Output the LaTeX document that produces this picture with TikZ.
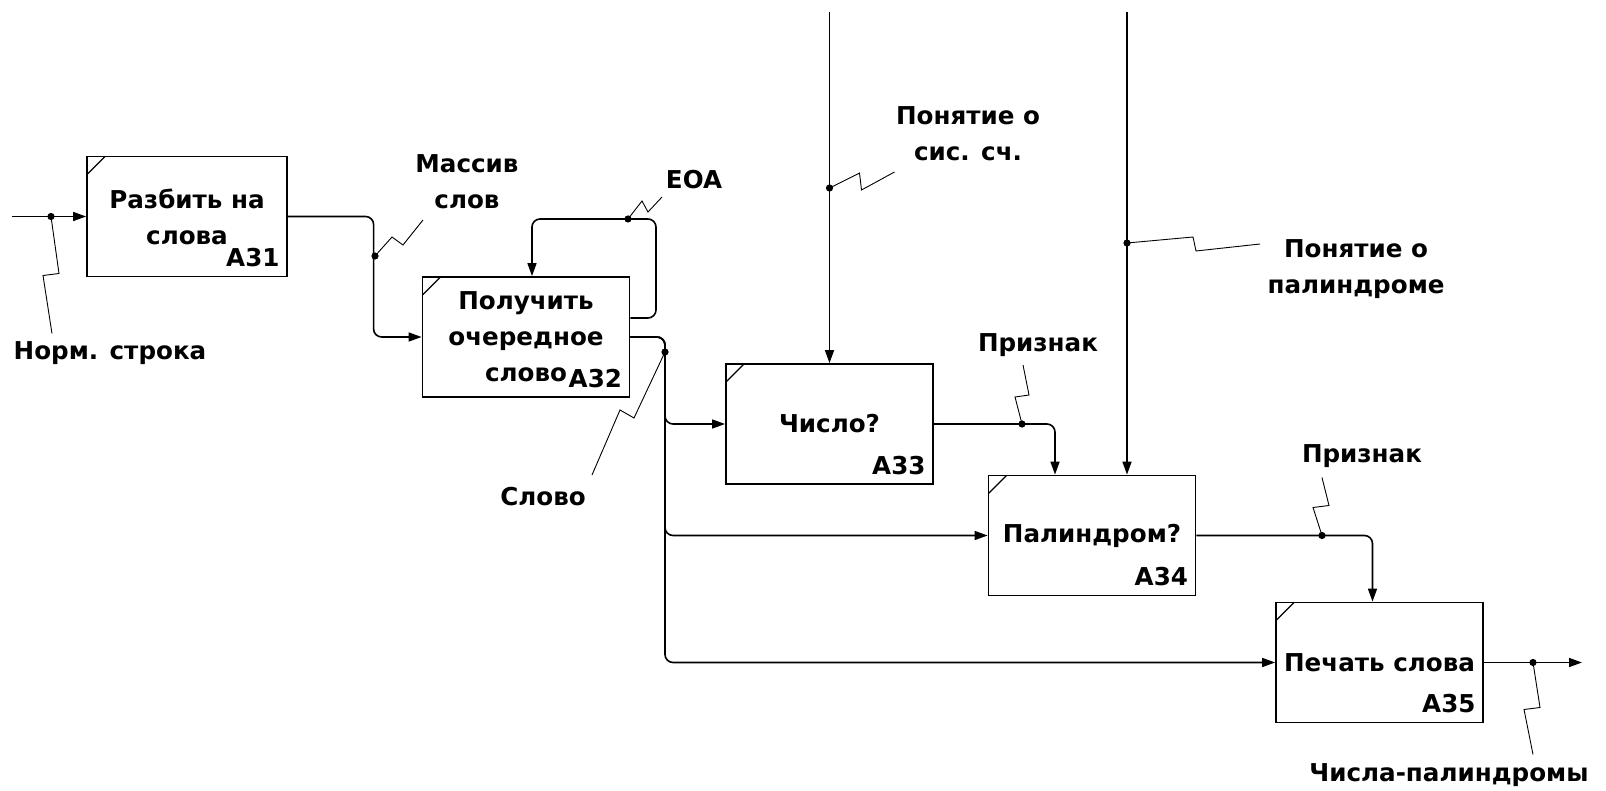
\documentclass[tikz,border=0pt]{standalone}
\usepackage{fontspec}
\setmainfont{DejaVu Sans}
\usetikzlibrary{calc,arrows.meta}
\tikzset{
  func/.style={draw, line width=0.9pt, minimum width=103.5pt, minimum height=60pt, align=center, inner sep=2pt,
    path picture={\draw[line width=0.6pt] ([yshift=-9pt]path picture bounding box.north west) -- ++(9pt,9pt);},
    label={[anchor=south east, xshift=-4pt, yshift=5pt, inner sep=0pt]south east:#1}},
  arr/.style={line width=0.8pt, rounded corners=4pt, -{Triangle[length=6.5pt,width=4.5pt]}},
  squig/.style={line width=0.45pt},
  dot/.style={circle, fill, inner sep=0pt, minimum size=3.6pt},
  txt/.style={align=center}
}
\begin{document}
\begin{tikzpicture}[x=0.5pt, y=-0.5pt, font=\fontsize{12.3pt}{18pt}\selectfont\bfseries]
\useasboundingbox (0,0) rectangle (1606,791);

\node[func=A31, minimum width=100pt] (a31) at (187,216.5) {Разбить на\\слова};
\node[func=A32] (a32) at (526,337) {Получить\\очередное\\слово};
\node[func=A33] (a33) at (829.5,424) {Число?};
\node[func=A34] (a34) at (1092,535.5) {Палиндром?};
\node[func=A35] (a35) at (1379.5,662.5) {Печать слова};

\coordinate (in) at (12,216.5);
\coordinate (loop) at (656,219);
\coordinate (split) at (665,352);
\coordinate (c1) at (829.5,12);
\coordinate (c2) at (1127,12);
\coordinate (out) at (1582,662.5);

\draw[arr] (in) -- (a31.west);
\draw[arr] (a31.east) -| ($(a32.west)+(-48,0)$) -- (a32.west);
\draw[arr] ($(a32.east)+(0,-19)$) -| (loop) -| ($(a32.north)+(6,0)$);
\foreach \f in {a33,a34,a35}
  \draw[arr] (a32.east) -| (split) |- (\f.west);
\draw[arr] (c1) -- (a33.north);
\draw[arr] (c2) -- (c2 |- a34.north);
\draw[arr] (a33.east) -| ($(a34.north)+(-37,0)$);
\draw[arr] (a34.east) -| ($(a35.north)+(-7,0)$);
\draw[arr] (a35.east) -- (out);

\node[dot] (d1) at (51,216.5) {};
\node[dot] (d2) at (375,256) {};
\node[dot] (d3) at (628,219) {};
\node[dot] (d4) at (split) {};
\node[dot] (d5) at (829.5,188) {};
\node[dot] (d6) at (1127,243) {};
\node[dot] (d7) at (1022,424) {};
\node[dot] (d8) at (1322,535.5) {};
\node[dot] (d9) at (1533,662.5) {};

\draw[squig] (d1.center) -- ++(8,57) -- ++(-16,2) -- ++(9,58);
\draw[squig] (d2.center) -- ++(17,-19) -- ++(11,8) -- ++(20,-25);
\draw[squig] (d3.center) -- ++(14,-18) -- ++(6,11) -- ++(14,-15);
\draw[squig] (d4.center) -- ++(-31,66) -- ++(-14,-8) -- ++(-28,65);
\draw[squig] (d5.center) -- ++(30,-15) -- ++(2,17) -- ++(33,-18);
\draw[squig] (d6.center) -- ++(66,-6) -- ++(3,14) -- ++(64,-7);
\draw[squig] (d7.center) -- ++(-7,-27) -- ++(14,-2) -- ++(-6,-30);
\draw[squig] (d8.center) -- ++(-9,-28) -- ++(16,-2) -- ++(-7,-28);
\draw[squig] (d9.center) -- ++(7,45) -- ++(-16,2) -- ++(9,45);

\node[txt] (norm) at (110,353) {Норм. строка};
\node[txt] (mass) at (467,182) {Массив\\слов};
\node[txt] (eoa) at (694,180) {EOA};
\node[txt] (slovo) at (543,497) {Слово};
\node[txt] (pss) at (968,134) {Понятие о\\сис. сч.};
\node[txt] (pr1) at (1038,345) {Признак};
\node[txt] (ppal) at (1356,269) {Понятие о\\палиндроме};
\node[txt] (pr2) at (1362,456) {Признак};
\node[txt] (nums) at (1449,775) {Числа-палиндромы};
\end{tikzpicture}
\end{document}
